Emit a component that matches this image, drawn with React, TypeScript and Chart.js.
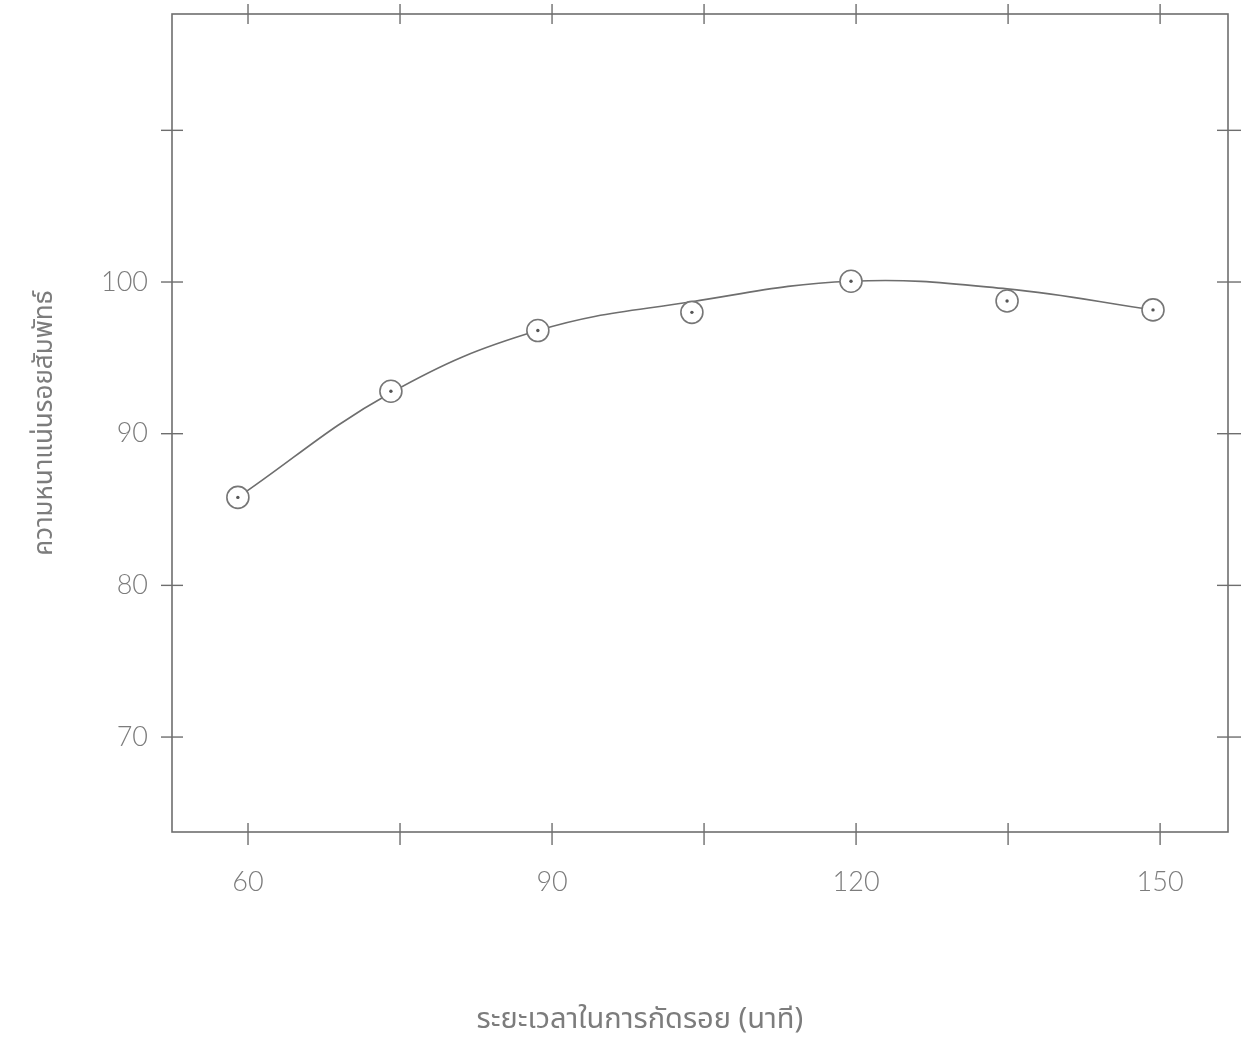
import { useEffect, useRef } from 'react';
import { Chart, registerables } from 'chart.js';

Chart.register(...registerables);

// Axis ticks
const xTickValues = [60, 75, 90, 105, 120, 135, 150];
const xLabeledTicks = [60, 90, 120, 150];
const yTickValues = [70, 80, 90, 100, 110];
const yLabeledTicks = [70, 80, 90, 100];

// Measured points (etching time in minutes, relative track density)
const measuredTimes = [59.0, 74.1, 88.6, 103.8, 119.5, 134.9, 149.3];
const measuredDensity = [85.8, 92.8, 96.8, 98.0, 100.05, 98.75, 98.16];

// Hand-drawn fitted curve, read at several positions
const curveTimes = [59.0, 74.1, 88.6, 103.8, 119.5, 134.9, 149.3];
const curveDensity = [85.8, 92.7, 96.8, 98.7, 100.05, 99.55, 98.16];

const xTitle = 'ระยะเวลาในการกัดรอย (นาที)';
const yTitle = 'ความหนาแน่นรอยสัมพัทธ์';

const INK = '#6e6e6e';
const TEXT = '#7c7c7c';
const THAI_FONT = '"Noto Sans Thai", "Noto Sans", "DejaVu Sans", sans-serif';

const frameTicks = {
  id: 'frameTicks',
  beforeDatasetsDraw(chart: any) {
    const { ctx, chartArea, scales } = chart;
    const { left, right, top, bottom } = chartArea;
    const x = scales.x;
    const y = scales.y;
    ctx.save();
    ctx.strokeStyle = INK;
    ctx.lineWidth = 1.6;
    ctx.strokeRect(left, top, right - left, bottom - top);
    ctx.lineWidth = 1.4;
    const seg = (x1: number, y1: number, x2: number, y2: number) => {
      ctx.beginPath();
      ctx.moveTo(x1, y1);
      ctx.lineTo(x2, y2);
      ctx.stroke();
    };
    xTickValues.forEach((v) => {
      const px = x.getPixelForValue(v);
      seg(px, bottom - 9, px, bottom + 13);
      seg(px, top - 10, px, top + 10);
    });
    yTickValues.forEach((v) => {
      const py = y.getPixelForValue(v);
      seg(left - 11, py, left + 11, py);
      seg(right - 11, py, right + 13, py);
    });
    ctx.restore();
  },
  afterDraw(chart: any) {
    const { ctx, chartArea } = chart;
    const { left, right } = chartArea;
    ctx.save();
    ctx.fillStyle = TEXT;
    ctx.font = `29px ${THAI_FONT}`;
    ctx.textAlign = 'center';
    ctx.textBaseline = 'middle';
    ctx.fillText(xTitle, left + 0.443 * (right - left), 1022);
    ctx.restore();
  },
};

export default function App() {
  const canvasRef = useRef<HTMLCanvasElement | null>(null);

  useEffect(() => {
    const canvas = canvasRef.current;
    if (!canvas) return;
    const chart = new Chart(canvas, {
      type: 'scatter',
      data: {
        datasets: [
          {
            label: 'curve',
            data: curveTimes.map((t, i) => ({ x: t, y: curveDensity[i] })),
            showLine: true,
            borderColor: INK,
            borderWidth: 1.6,
            pointRadius: 0,
            tension: 0.4,
            order: 3,
          } as any,
          {
            label: 'measured',
            data: measuredTimes.map((t, i) => ({ x: t, y: measuredDensity[i] })),
            pointRadius: 11,
            pointBackgroundColor: '#ffffff',
            pointBorderColor: '#767676',
            pointBorderWidth: 1.6,
            order: 2,
          } as any,
          {
            label: 'centre',
            data: measuredTimes.map((t, i) => ({ x: t, y: measuredDensity[i] })),
            pointRadius: 1.7,
            pointBackgroundColor: '#555555',
            pointBorderWidth: 0,
            order: 1,
          } as any,
        ],
      },
      options: {
        animation: false,
        responsive: false,
        events: [],
        layout: { padding: { top: 14, right: 19, left: 0, bottom: 0 } },
        plugins: {
          legend: { display: false },
          tooltip: { enabled: false },
        },
        scales: {
          x: {
            type: 'linear',
            position: 'bottom',
            min: 52.5,
            max: 156.7,
            afterBuildTicks: (scale: any) => {
              scale.ticks = xTickValues.map((v) => ({ value: v }));
            },
            afterFit: (scale: any) => {
              scale.height = 1054 - 832;
              scale.paddingLeft = 0;
              scale.paddingRight = 0;
            },
            grid: { display: true, drawOnChartArea: false, drawTicks: false, color: 'rgba(0,0,0,0)' },
            border: { display: false },
            ticks: {
              padding: 34,
              maxRotation: 0,
              autoSkip: false,
              color: TEXT,
              font: { family: 'Lato, "Open Sans", sans-serif', size: 27, weight: '300' as any },
              callback: (v: any) => (xLabeledTicks.includes(Number(v)) ? String(v) : ''),
            },
          },
          y: {
            type: 'linear',
            position: 'left',
            min: 63.74,
            max: 117.67,
            afterBuildTicks: (scale: any) => {
              scale.ticks = yTickValues.map((v) => ({ value: v }));
            },
            afterFit: (scale: any) => {
              scale.width = 172;
              scale.paddingTop = 0;
              scale.paddingBottom = 0;
            },
            grid: { display: true, drawOnChartArea: false, drawTicks: false, color: 'rgba(0,0,0,0)' },
            border: { display: false },
            title: {
              display: true,
              text: yTitle,
              color: TEXT,
              padding: { top: 31, bottom: 0 },
              font: { family: THAI_FONT, size: 26 },
            },
            ticks: {
              padding: 24,
              autoSkip: false,
              color: TEXT,
              font: { family: 'Lato, "Open Sans", sans-serif', size: 27, weight: '300' as any },
              callback: (v: any) => (yLabeledTicks.includes(Number(v)) ? String(v) : ''),
            },
          },
        },
      },
      plugins: [frameTicks],
    });
    return () => chart.destroy();
  }, []);

  return (
    <div style={{ position: 'absolute', left: 0, top: 0, width: 1247, height: 1054, background: '#ffffff' }}>
      <canvas ref={canvasRef} width={1247} height={1054} style={{ display: 'block' }} />
    </div>
  );
}
